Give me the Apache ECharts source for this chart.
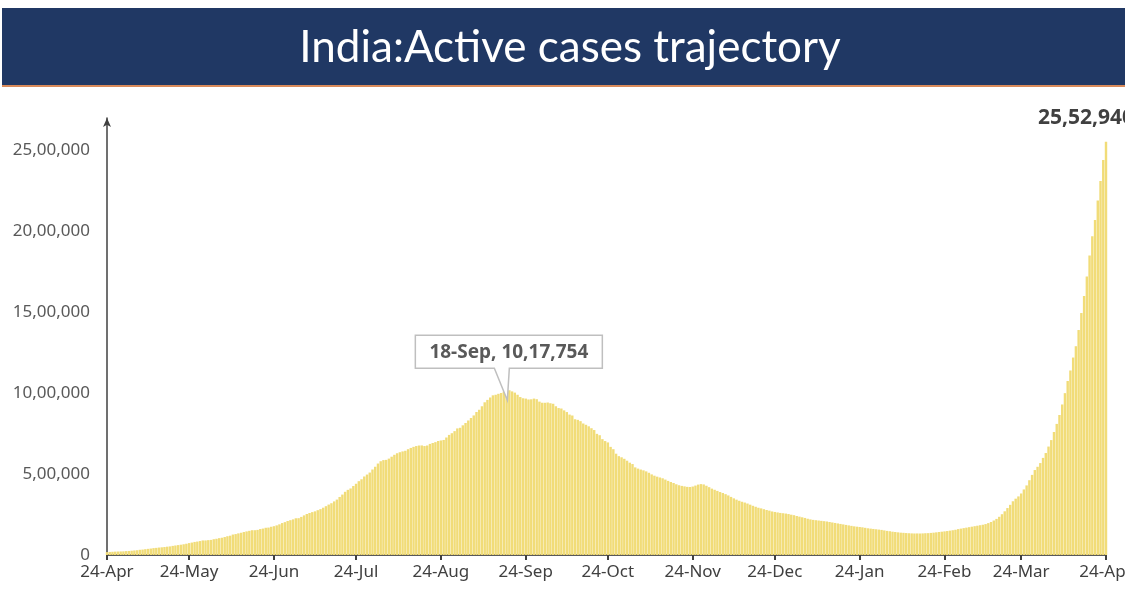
<!DOCTYPE html>
<html>
<head>
<meta charset="utf-8">
<script src="https://cdn.jsdelivr.net/npm/echarts@6/dist/echarts.min.js"></script>
<style>
html,body{margin:0;padding:0;background:#fff;}
#main{width:1125px;height:592px;}
</style>
</head>
<body>
<div id="main"></div>
<script>
// Daily active cases, 24-Apr-2020 .. 24-Apr-2021
const apr20 = [17900, 18950, 19870, 20840, 21630, 22010, 22630];
const may20 = [24160, 25010, 26540, 28050, 29450, 32140, 33510, 35900, 37920, 39830, 42550, 44030, 46010, 47480, 49220, 51400, 53040, 56320, 58800, 61150, 63620, 66330, 69600, 73560, 76820, 80720, 83000, 86110, 89990, 89990, 91820];
const jun20 = [93320, 97580, 100300, 104110, 106740, 110960, 115940, 119290, 126430, 129220, 133630, 137450, 141840, 145780, 149350, 153110, 153180, 155230, 160380, 163250, 168270, 169450, 174390, 178010, 183020, 189460, 197390, 203050, 210120, 215130];
const jul20 = [220110, 226950, 227440, 235430, 244810, 253290, 259560, 264940, 269790, 276880, 283410, 292260, 301610, 311570, 319840, 331150, 342470, 358690, 373380, 390460, 402530, 411130, 426170, 440140, 456070, 467880, 485110, 496990, 509450, 528240, 545320];
const aug20 = [565100, 579360, 586300, 587700, 595500, 607380, 619090, 628750, 634950, 639930, 643950, 653620, 661600, 668220, 673170, 676510, 676900, 673170, 676510, 686400, 692030, 697330, 704350, 707670, 710770, 725990, 742020, 752420, 765300, 781980, 785990];
const sep20 = [801280, 815540, 831120, 846400, 862320, 883700, 897390, 919020, 943480, 958320, 973180, 986600, 990060, 995930, 1001000, 1009980, 1012000, 1017754, 1010820, 1003300, 990060, 975860, 968380, 966380, 960970, 962000, 966380, 962640, 947580, 940710];
const oct20 = [940440, 942220, 937630, 934430, 919020, 907880, 905000, 893590, 883190, 867500, 861850, 838730, 835000, 826880, 812390, 804530, 795090, 783310, 772060, 748540, 740090, 715810, 704000, 695510, 668150, 653720, 625860, 610800, 603690, 594390, 582650];
const nov20 = [570460, 561910, 541410, 533790, 527960, 523000, 516630, 508000, 498000, 490000, 484000, 479000, 474000, 466000, 458000, 451000, 445000, 437000, 431000, 427000, 424000, 421000, 420000, 423000, 429000, 435000, 438000, 436000, 428000, 419000];
const dec20 = [410000, 403000, 396000, 389000, 383000, 376000, 368000, 359000, 350000, 342000, 335000, 329000, 324000, 318000, 311000, 304000, 298000, 292000, 288000, 283000, 278000, 274000, 269000, 266000, 263000, 260000, 258000, 256000, 253000, 249000, 246000];
const jan21 = [241000, 237000, 233000, 229000, 224000, 220000, 217000, 215000, 213000, 211000, 209000, 207000, 204000, 201000, 198000, 195000, 192000, 189000, 186000, 183000, 180000, 177000, 175000, 173000, 171000, 168000, 165000, 163000, 161000, 159000, 157000];
const feb21 = [155000, 152000, 149000, 147000, 144000, 142000, 140000, 138000, 137000, 135500, 134500, 133500, 133000, 133200, 132800, 133500, 134500, 135000, 136500, 138000, 140000, 142000, 144000, 146000, 148000, 150500, 153000, 156000];
const mar21 = [160000, 163000, 166000, 169000, 172000, 175000, 178000, 181000, 184000, 187000, 191000, 197000, 204000, 213000, 223000, 236000, 252000, 270000, 290000, 310000, 332000, 348000, 362000, 380000, 405000, 430000, 462000, 495000, 525000, 545000, 568000];
const apr21 = [600000, 630000, 670000, 710000, 760000, 810000, 865000, 930000, 1000000, 1075000, 1140000, 1220000, 1290000, 1390000, 1495000, 1600000, 1720000, 1850000, 1970000, 2070000, 2190000, 2310000, 2440000, 2552940];

const monthNames = ['Jan','Feb','Mar','Apr','May','Jun','Jul','Aug','Sep','Oct','Nov','Dec'];
const titleText = 'India:Active cases trajectory';
const yTicks = [0, 500000, 1000000, 1500000, 2000000, 2500000];

const values = [].concat(apr20, may20, jun20, jul20, aug20, sep20, oct20, nov20, dec20, jan21, feb21, mar21, apr21);
const categories = [];
const startMs = Date.UTC(2020, 3, 24);
for (let i = 0; i < values.length; i++) {
  const d = new Date(startMs + i * 86400000);
  categories.push(d.getUTCDate() + '-' + monthNames[d.getUTCMonth()]);
}

function inr(v) {
  const s = String(Math.round(v));
  if (s.length <= 3) return s;
  const last3 = s.slice(-3);
  let rest = s.slice(0, -3);
  const parts = [];
  while (rest.length > 2) { parts.unshift(rest.slice(-2)); rest = rest.slice(0, -2); }
  if (rest) parts.unshift(rest);
  return parts.join(',') + ',' + last3;
}

let peakIdx = 0;
for (let i = 0; i < values.length - 30; i++) if (values[i] > values[peakIdx]) peakIdx = i;
const lastIdx = values.length - 1;

const seriesData = values.map((v, i) => {
  if (i === lastIdx) {
    return {
      value: v,
      label: {
        show: true, position: 'top', formatter: p => inr(p.value),
        fontFamily: 'Noto Sans', fontWeight: 'bold', fontSize: 21, color: '#404040',
        offset: [-20, -8]
      }
    };
  }
  return v;
});

const isTick = (idx, val) => categories[idx].indexOf('24-') === 0;
const font = 'Noto Sans';

const chart = echarts.init(document.getElementById('main'), null, {renderer: 'canvas'});
chart.setOption({
  animation: false,
  backgroundColor: '#ffffff',
  grid: {left: 107, right: 19, top: 118, bottom: 37, containLabel: false, outerBoundsMode: 'none'},
  xAxis: {
    type: 'category',
    data: categories,
    boundaryGap: false,
    axisLine: {show: true, lineStyle: {color: '#595959', width: 2}},
    axisTick: {show: true, interval: isTick, length: 5, lineStyle: {color: '#404040', width: 2}},
    axisLabel: {interval: isTick, color: '#404040', fontFamily: font, fontSize: 17, margin: 9},
    splitLine: {show: false}
  },
  yAxis: {
    type: 'value',
    min: 0, max: 2700000, interval: 500000,
    axisLine: {show: true, symbol: ['none', 'arrow'], symbolSize: [6, 9], lineStyle: {color: '#404040', width: 1.5}},
    axisTick: {show: false},
    splitLine: {show: false},
    axisLabel: {
      color: '#595959', fontFamily: font, fontSize: 17, margin: 17,
      formatter: v => (yTicks.indexOf(v) >= 0 ? inr(v) : '')
    }
  },
  series: [{
    type: 'bar',
    data: seriesData,
    barWidth: '88%',
    itemStyle: {color: '#F1DC78'},
    silent: true
  }]
});

const p = chart.convertToPixel({seriesIndex: 0}, [peakIdx, values[peakIdx]]);
const tx = p[0] - 2, ty = p[1] + 10;
const L = tx - 92, R = tx + 95, T = ty - 65, B = ty - 32;

chart.setOption({
  graphic: [
    {type: 'rect', left: 2, top: 8, shape: {width: 1123, height: 77}, style: {fill: '#203864'}, z: 100},
    {type: 'rect', left: 2, top: 85, shape: {width: 1123, height: 2}, style: {fill: '#D98A5A'}, z: 100},
    {type: 'text', x: 570, y: 48, style: {text: titleText, fill: '#ffffff', font: '44px Lato', textAlign: 'center', textVerticalAlign: 'middle'}, z: 101},
    {type: 'polygon', shape: {points: [[L, T], [R, T], [R, B], [tx + 2, B], [tx, ty], [tx - 13, B], [L, B]]},
     style: {fill: '#ffffff', stroke: '#BFBFBF', lineWidth: 1.5}, z: 100},
    {type: 'text', x: (L + R) / 2, y: (T + B) / 2 + 1,
     style: {text: categories[peakIdx] + ', ' + inr(values[peakIdx]),
             fill: '#595959', font: 'bold 19px "Noto Sans"', textAlign: 'center', textVerticalAlign: 'middle'}, z: 101}
  ]
});
</script>
</body>
</html>
